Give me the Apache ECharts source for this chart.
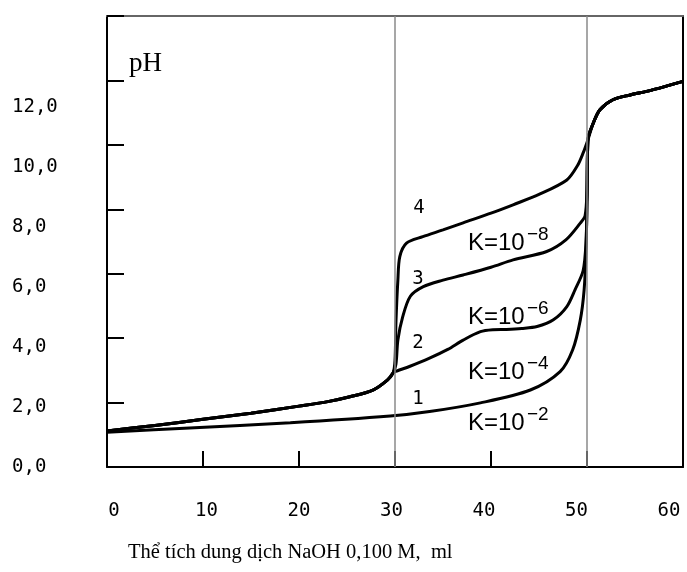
<!DOCTYPE html>
<html>
<head>
<meta charset="utf-8">
<script src="https://cdn.jsdelivr.net/npm/echarts@6/dist/echarts.min.js"></script>
<style>
  html, body { margin: 0; padding: 0; background: #fff; }
  #chart { width: 687px; height: 572px; }
</style>
</head>
<body>
<div id="chart"></div>
<script>
// Titration curves: pH vs volume of 0.100 M NaOH (ml)
const xTicks = [0, 10, 20, 30, 40, 50, 60];
const yTicks = [0, 2, 4, 6, 8, 10, 12];
const equivalenceVolumes = [30, 50];

// branch shared by curves 2-4 before the first equivalence point
const sharedStart = [
  [0, 1.12], [5, 1.29], [10, 1.48], [15, 1.67], [20, 1.89], [23, 2.03],
  [25.3, 2.18], [27.7, 2.39], [29.2, 2.70], [29.8, 2.92]
];
// branch shared by all curves after the second equivalence point
const sharedEnd = [
  [50.1, 10.16], [50.66, 10.68], [51.35, 11.09], [52.7, 11.40],
  [54.5, 11.55], [56.2, 11.66], [58, 11.80], [60, 11.97]
];
const curve1 = [
  [0, 1.08], [8.6, 1.21], [19.1, 1.37], [29.5, 1.58], [33.6, 1.72],
  [38.9, 1.99], [44.1, 2.39], [47.2, 2.96], [48.5, 3.63], [49.3, 4.56],
  [49.7, 5.5], [49.9, 6.7], [50.0, 8.3]
];
const curve2 = [
  [30.2, 2.98], [31.5, 3.12], [33.6, 3.38], [35.5, 3.65], [37.1, 3.94],
  [38.9, 4.2], [40.2, 4.26], [41.6, 4.27], [43.2, 4.3], [44.8, 4.36],
  [46.5, 4.57], [47.9, 4.98], [48.75, 5.5], [49.6, 6.1], [49.9, 7.0], [50.0, 8.3]
];
const curve3 = [
  [30.1, 3.2], [30.3, 3.94], [30.8, 4.66], [31.6, 5.3], [32.95, 5.60],
  [35, 5.8], [37.1, 5.96], [40, 6.2], [42.3, 6.43], [45.8, 6.69],
  [47.8, 7.05], [49.3, 7.57], [49.8, 7.8], [50.0, 8.6]
];
const curve4 = [
  [30.0, 3.3], [30.1, 4.5], [30.3, 5.8], [30.5, 6.53], [31.2, 6.95],
  [32.9, 7.15], [35, 7.36], [37.1, 7.58], [40, 7.88], [42.3, 8.14],
  [45, 8.46], [47.9, 8.91], [49, 9.35], [49.6, 9.75]
];

const curves = [
  curve1.concat(sharedEnd),
  sharedStart.concat(curve2, sharedEnd),
  sharedStart.concat(curve3, sharedEnd),
  sharedStart.concat(curve4, sharedEnd)
];
const curveNames = ['1', '2', '3', '4'];
const kTexts = ['10', '10', '10', '10'];
const kPowers = ['\u22122', '\u22124', '\u22126', '\u22128'];

const numFont = 'DejaVu Sans Mono';
const fmt = v => v.toFixed(1).replace('.', ',');

const chart = echarts.init(document.getElementById('chart'), null, { renderer: 'canvas' });

const series = curves.map((d, i) => ({
  name: curveNames[i],
  type: 'line',
  xAxisIndex: 0,
  yAxisIndex: 0,
  data: d,
  showSymbol: false,
  smooth: 0.3,
  lineStyle: { color: '#000', width: 3 },
  z: 3
}));
series[0].markLine = {
  silent: true,
  symbol: 'none',
  label: { show: false },
  lineStyle: { color: '#8a8a8a', width: 1.5, type: 'solid' },
  data: equivalenceVolumes.map(v => ({ xAxis: v }))
};

// annotation texts
const graphics = [];
const numPos = [[418, 399], [418, 343], [418, 279], [419, 208]];
curveNames.forEach((n, i) => {
  graphics.push({
    type: 'text', x: numPos[i][0], y: numPos[i][1],
    style: { text: n, font: '19px "' + numFont + '"', fill: '#000', align: 'center', verticalAlign: 'middle' },
    z: 10
  });
});
const kY = [423, 372, 317, 243];
kY.forEach((y, i) => {
  graphics.push({
    type: 'text', x: 468, y: y,
    style: { text: 'K=' + kTexts[i], font: '24px "Liberation Sans"', fill: '#000', align: 'left', verticalAlign: 'middle' },
    z: 2
  });
  graphics.push({
    type: 'text', x: 527, y: y - 8,
    style: { text: kPowers[i], font: '19px "Liberation Sans"', fill: '#000', align: 'left', verticalAlign: 'middle' },
    z: 2
  });
});
graphics.push({
  type: 'text', x: 129, y: 64,
  style: { text: 'pH', font: '27px "Liberation Serif"', fill: '#000', align: 'left', verticalAlign: 'middle' }
});
graphics.push({
  type: 'text', x: 128, y: 553,
  style: { text: 'Thể tích dung dịch NaOH 0,100 M,  ml', font: '20.5px "Liberation Serif"', fill: '#000', align: 'left', verticalAlign: 'middle' }
});

const option = {
  animation: false,
  backgroundColor: '#fff',
  grid: [
    { left: 107, top: 16, width: 576, height: 451 },
    { left: 114, top: 107, width: 555, height: 360 }
  ],
  xAxis: [
    {
      gridIndex: 0, type: 'value', min: 0, max: 60, interval: 10,
      axisLine: { show: true, onZero: false, lineStyle: { color: '#000', width: 2 } },
      axisTick: { show: true, inside: true, length: 16, lineStyle: { color: '#000', width: 2 } },
      axisLabel: { show: false },
      splitLine: { show: false }
    },
    {
      gridIndex: 1, type: 'value', min: xTicks[0], max: xTicks[xTicks.length - 1], interval: 10,
      axisLine: { show: false }, axisTick: { show: false }, splitLine: { show: false },
      axisLabel: { show: true, margin: 35, fontFamily: numFont, fontSize: 19, color: '#000' }
    },
    {
      gridIndex: 0, type: 'value', position: 'top', min: 0, max: 60,
      axisLine: { show: true, onZero: false, lineStyle: { color: '#666', width: 2 } },
      axisTick: { show: false }, axisLabel: { show: false }, splitLine: { show: false }
    }
  ],
  yAxis: [
    {
      gridIndex: 0, type: 'value', min: 0, max: 14, interval: 2,
      axisLine: { show: true, onZero: false, lineStyle: { color: '#000', width: 2 } },
      axisTick: { show: true, inside: true, length: 17, lineStyle: { color: '#000', width: 2 } },
      axisLabel: { show: false },
      splitLine: { show: false }
    },
    {
      gridIndex: 1, type: 'value', min: yTicks[0], max: yTicks[yTicks.length - 1], interval: 2,
      axisLine: { show: false }, axisTick: { show: false }, splitLine: { show: false },
      axisLabel: { show: true, margin: 102, align: 'left', fontFamily: numFont, fontSize: 19, color: '#000', formatter: fmt }
    },
    {
      gridIndex: 0, type: 'value', position: 'right', min: 0, max: 14,
      axisLine: { show: true, onZero: false, lineStyle: { color: '#000', width: 2 } },
      axisTick: { show: false }, axisLabel: { show: false }, splitLine: { show: false }
    }
  ],
  graphic: graphics,
  series: series
};
chart.setOption(option);
</script>
</body>
</html>
